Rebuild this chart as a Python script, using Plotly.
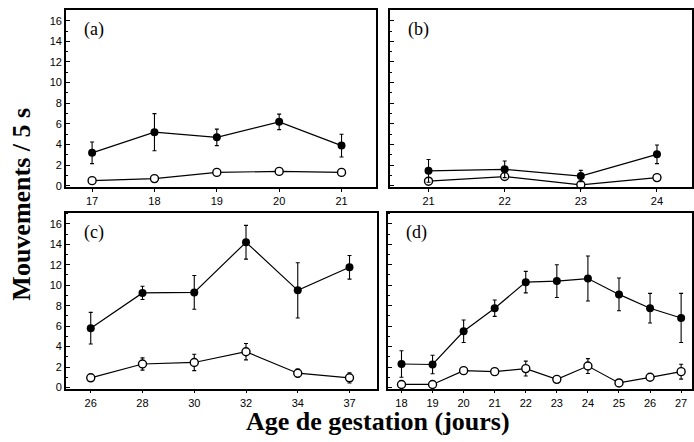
import plotly.graph_objects as go

# ---- data ----
a_x = [17, 18, 19, 20, 21]
a_fill = [3.2, 5.2, 4.7, 6.2, 3.9]
a_fill_err = [1.05, 1.8, 0.8, 0.75, 1.1]
a_open = [0.5, 0.7, 1.3, 1.4, 1.3]
a_open_err = [0, 0, 0, 0, 0]

b_x = [21, 22, 23, 24]
b_fill = [1.45, 1.6, 0.95, 3.05]
b_fill_err = [1.1, 0.8, 0.55, 0.9]
b_open = [0.45, 0.9, 0.1, 0.8]
b_open_err = [0, 0, 0, 0]

c_x = ["26", "28", "30", "32", "34", "37"]
c_fill = [5.8, 9.25, 9.3, 14.2, 9.5, 11.75]
c_fill_err = [1.55, 0.65, 1.65, 1.65, 2.7, 1.15]
c_open = [0.95, 2.3, 2.45, 3.5, 1.4, 0.95]
c_open_err = [0, 0.6, 0.8, 0.8, 0.4, 0.5]

d_x = [18, 19, 20, 21, 22, 23, 24, 25, 26, 27]
d_fill = [2.3, 2.25, 5.5, 7.75, 10.3, 10.4, 10.65, 9.1, 7.75, 6.8]
d_fill_err = [1.3, 0.9, 1.1, 0.8, 1.05, 1.6, 2.2, 1.6, 1.45, 2.4]
d_open = [0.3, 0.3, 1.65, 1.55, 1.85, 0.8, 2.1, 0.45, 1.0, 1.55]
d_open_err = [0, 0, 0, 0, 0.73, 0, 0.73, 0, 0, 0.73]

y_ticks = [0, 2, 4, 6, 8, 10, 12, 14, 16]
y_title = "Mouvements / 5 s"
x_title = "Age de gestation (jours)"
panel_labels = ["(a)", "(b)", "(c)", "(d)"]

W, H = 694, 442
fig = go.Figure()

def px_x(p):
    return p / W

def px_y(p):
    return 1 - p / H

panels = [
    dict(x=a_x, f=a_fill, fe=a_fill_err, o=a_open, oe=a_open_err, ax="", dx=(66, 377), dy=(10, 189), xr=[16.58, 21.56], yr=[-0.1, 17.05], lab=True),
    dict(x=b_x, f=b_fill, fe=b_fill_err, o=b_open, oe=b_open_err, ax="2", dx=(391, 693), dy=(10, 189), xr=[20.5, 24.46], yr=[-0.1, 17.05], lab=False),
    dict(x=c_x, f=c_fill, fe=c_fill_err, o=c_open, oe=c_open_err, ax="3", dx=(66, 378), dy=(215, 393), xr=[-0.48, 5.54], yr=[-0.1, 17.1], lab=True),
    dict(x=d_x, f=d_fill, fe=d_fill_err, o=d_open, oe=d_open_err, ax="4", dx=(389, 693), dy=(215, 393), xr=[17.58, 27.35], yr=[-0.1, 17.1], lab=False),
]

tickfont = dict(family="Liberation Sans", size=11, color="black")

for i, p in enumerate(panels):
    xa = "x" + p["ax"]
    ya = "y" + p["ax"]
    fig.add_trace(go.Scatter(
        x=p["x"], y=p["o"], xaxis=xa, yaxis=ya, mode="lines+markers",
        line=dict(color="black", width=1.2),
        marker=dict(symbol="circle", size=8, color="white", line=dict(color="black", width=1.4)),
        error_y=dict(type="data", array=p["oe"], visible=True, color="black", thickness=1.1, width=2),
        cliponaxis=False, showlegend=False))
    fig.add_trace(go.Scatter(
        x=p["x"], y=p["f"], xaxis=xa, yaxis=ya, mode="lines+markers",
        line=dict(color="black", width=1.2),
        marker=dict(symbol="circle", size=8, color="black"),
        error_y=dict(type="data", array=p["fe"], visible=True, color="black", thickness=1.1, width=2),
        cliponaxis=False, showlegend=False))

    xkey = "xaxis" + p["ax"]
    ykey = "yaxis" + p["ax"]
    xcfg = dict(
        domain=[px_x(p["dx"][0]), px_x(p["dx"][1])],
        anchor=ya, range=p["xr"], showgrid=False, zeroline=False,
        showline=True, linecolor="black", linewidth=1.5, mirror=True,
        ticks="outside", ticklen=3, tickcolor="black", tickfont=tickfont,
    )
    if i == 2:
        xcfg["type"] = "category"
    else:
        xcfg["tickmode"] = "array"
        xcfg["tickvals"] = p["x"]
    ycfg = dict(
        domain=[px_y(p["dy"][1]), px_y(p["dy"][0])],
        anchor=xa, range=p["yr"], showgrid=False, zeroline=False,
        showline=True, linecolor="black", linewidth=1.5, mirror=True,
        ticks="inside", ticklen=4, tickcolor="black",
        tickmode="array", tickvals=y_ticks, showticklabels=p["lab"],
        tickfont=tickfont,
        minor=dict(ticks="inside", ticklen=2, tickcolor="black", dtick=1),
    )
    fig.update_layout(**{xkey: xcfg, ykey: ycfg})

    fig.add_annotation(
        text=panel_labels[i], xref="paper", yref="paper",
        x=px_x(p["dx"][0] + 16), y=px_y(p["dy"][0] + 20),
        xanchor="left", yanchor="middle", showarrow=False,
        font=dict(family="Liberation Serif", size=18, color="black"))

fig.add_annotation(
    text="<b>" + y_title + "</b>", xref="paper", yref="paper",
    x=px_x(22), y=px_y(206), textangle=-90, showarrow=False,
    xanchor="center", yanchor="middle",
    font=dict(family="Liberation Serif", size=26, color="black"))
fig.add_annotation(
    text="<b>" + x_title + "</b>", xref="paper", yref="paper",
    x=px_x(379), y=px_y(426), showarrow=False,
    xanchor="center", yanchor="middle",
    font=dict(family="Liberation Serif", size=26, color="black"))

fig.update_layout(
    width=W, height=H, margin=dict(l=0, r=0, t=0, b=0),
    paper_bgcolor="white", plot_bgcolor="white",
)

fig.write_html("out.html", config={"displayModeBar": False},
               post_script="document.body.style.margin='0';document.body.style.overflow='hidden';")
